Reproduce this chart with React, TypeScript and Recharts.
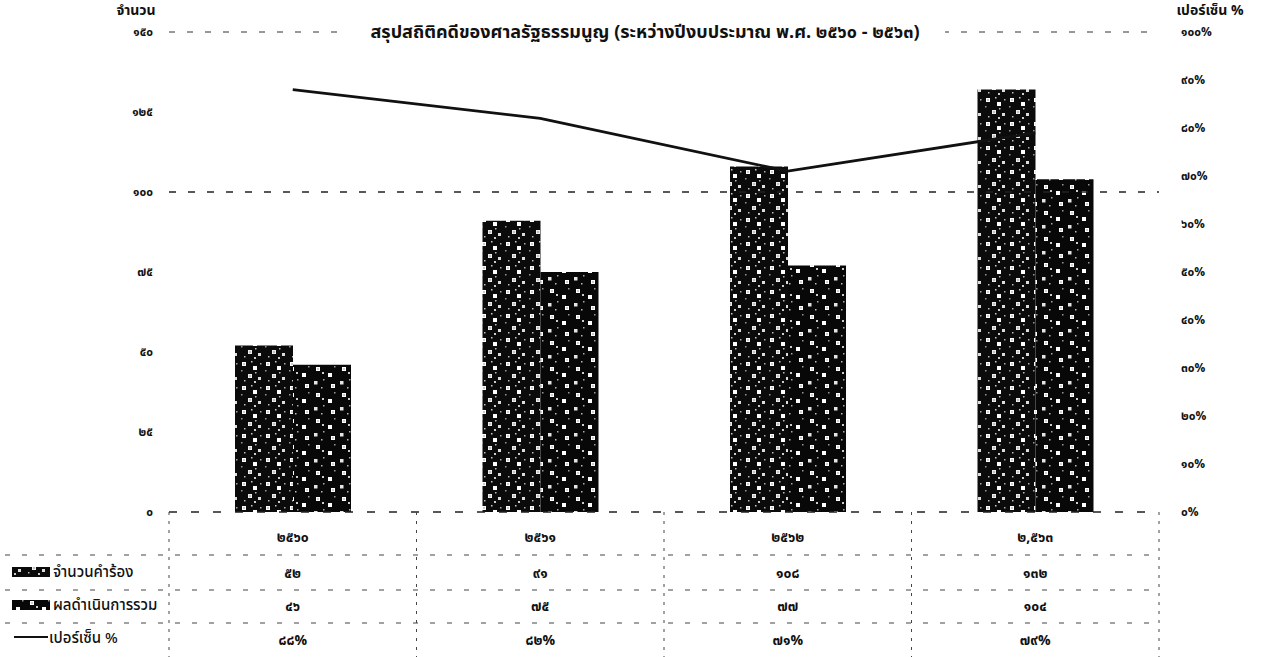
import React from 'react';
import { ComposedChart, Bar, Line, XAxis, YAxis, ReferenceLine } from 'recharts';

const categories = ['๒๕๖๐', '๒๕๖๑', '๒๕๖๒', '๒,๕๖๓'];
const petitions = [52, 91, 108, 132];
const results = [46, 75, 77, 104];
const percents = [88, 82, 71, 79];

const leftTicks = [0, 25, 50, 75, 100, 125, 150];
const leftTickLabels = ['๐', '๒๕', '๕๐', '๗๕', '๑๐๐', '๑๒๕', '๑๕๐'];
const rightTicks = [0, 10, 20, 30, 40, 50, 60, 70, 80, 90, 100];
const rightTickLabels = ['๐%', '๑๐%', '๒๐%', '๓๐%', '๔๐%', '๕๐%', '๖๐%', '๗๐%', '๘๐%', '๙๐%', '๑๐๐%'];

const seriesNames = ['จำนวนคำร้อง', 'ผลดำเนินการรวม', 'เปอร์เซ็น %'];
const title = 'สรุปสถิติคดีของศาลรัฐธรรมนูญ (ระหว่างปีงบประมาณ พ.ศ. ๒๕๖๐ - ๒๕๖๓)';
const leftAxisTitle = 'จำนวน';
const rightAxisTitle = 'เปอร์เซ็น %';

const thaiDigits = ['๐', '๑', '๒', '๓', '๔', '๕', '๖', '๗', '๘', '๙'];
const toThai = (s: string | number) => String(s).replace(/[0-9]/g, (d) => thaiDigits[Number(d)]);

const data = categories.map((c, i) => ({
  name: c,
  petitions: petitions[i],
  results: results[i],
  percent: percents[i],
}));

const FONT = '"Noto Sans Thai", "Tahoma", "Loma", "Garuda", "DejaVu Sans", sans-serif';
const W = 1267;
const H = 657;
const PLOT_LEFT = 169;
const PLOT_RIGHT = 1159;
const PLOT_BOTTOM = 512;
const BAND = (PLOT_RIGHT - PLOT_LEFT) / categories.length;

const Patterns = ({ prefix }: { prefix: string }) => (
  <defs>
    <pattern id={`${prefix}a`} width="24" height="24" patternUnits="userSpaceOnUse">
      <rect width="24" height="24" fill="#0b0b0b" />
      <rect x="2" y="2" width="4" height="4" fill="#fff" />
      <rect x="3.5" y="3.5" width="1" height="1" fill="#333" />
      <rect x="13" y="6" width="4" height="4" fill="#fff" />
      <rect x="8" y="14" width="4" height="4" fill="#eee" />
      <rect x="9.5" y="15.5" width="1" height="1" fill="#333" />
      <rect x="18" y="17" width="3" height="3" fill="#ddd" />
      <rect x="15" y="12" width="1.5" height="1.5" fill="#bbb" />
      <rect x="4" y="20" width="1.5" height="1.5" fill="#bbb" />
      <rect x="20" y="3" width="1.5" height="1.5" fill="#aaa" />
      <rect x="1" y="10" width="1.5" height="1.5" fill="#999" />
      <rect x="11" y="1" width="1.5" height="1.5" fill="#ccc" />
      <rect x="14" y="21" width="2" height="2" fill="#ccc" />
    </pattern>
    <pattern id={`${prefix}b`} width="26" height="26" patternUnits="userSpaceOnUse">
      <rect width="26" height="26" fill="#080808" />
      <rect x="4" y="3" width="4" height="4" fill="#fff" />
      <rect x="5.5" y="4.5" width="1" height="1" fill="#333" />
      <rect x="16" y="9" width="4" height="4" fill="#fff" />
      <rect x="2" y="17" width="3.5" height="3.5" fill="#e5e5e5" />
      <rect x="19" y="20" width="4" height="4" fill="#fff" />
      <rect x="20.5" y="21.5" width="1" height="1" fill="#333" />
      <rect x="11" y="15" width="1.5" height="1.5" fill="#aaa" />
      <rect x="9" y="23" width="1.5" height="1.5" fill="#bbb" />
      <rect x="22" y="2" width="1.5" height="1.5" fill="#999" />
      <rect x="10" y="8" width="2" height="2" fill="#ccc" />
    </pattern>
  </defs>
);

const TableTick = (props: any) => {
  const { x, payload } = props;
  const i = payload.index;
  const half = BAND / 2;
  const base = PLOT_BOTTOM;
  const txt = { fontFamily: FONT, fontSize: 14, fontWeight: 700, fill: '#111', textAnchor: 'middle' as const };
  return (
    <g>
      <line x1={x - half} x2={x - half} y1={base} y2={H} stroke="#444" strokeWidth={1} strokeDasharray="3 6" />
      {i === categories.length - 1 && (
        <line x1={x + half} x2={x + half} y1={base} y2={H} stroke="#444" strokeWidth={1} strokeDasharray="3 6" />
      )}
      <text x={x} y={base + 30} {...txt}>{categories[i]}</text>
      <text x={x} y={base + 66} {...txt}>{toThai(petitions[i])}</text>
      <text x={x} y={base + 99} {...txt}>{toThai(results[i])}</text>
      <text x={x} y={base + 133} {...txt}>{toThai(percents[i]) + '%'}</text>
    </g>
  );
};

export default function App() {
  return (
    <div style={{ position: 'absolute', left: 0, top: 0, width: W, height: H, background: '#fff', fontFamily: FONT }}>
      <ComposedChart
        width={W}
        height={H}
        data={data}
        margin={{ top: 32, right: 48, left: 109, bottom: 0 }}
        barGap={0}
      >
        <Patterns prefix="bp" />
        <XAxis
          dataKey="name"
          xAxisId="x"
          height={145}
          tickLine={false}
          tickSize={0}
          tickMargin={0}
          axisLine={{ stroke: '#222', strokeWidth: 1.5, strokeDasharray: '8 14' }}
          tick={<TableTick />}
          interval={0}
        />
        <YAxis
          yAxisId="left"
          domain={[0, 150]}
          ticks={leftTicks}
          tickFormatter={(v: number) => leftTickLabels[leftTicks.indexOf(v)]}
          axisLine={false}
          tickLine={false}
          tickSize={0}
          tickMargin={16}
          width={60}
          tick={{ fontFamily: FONT, fontSize: 12, fontWeight: 700, fill: '#111' }}
        />
        <YAxis
          yAxisId="right"
          orientation="right"
          domain={[0, 100]}
          ticks={rightTicks}
          tickFormatter={(v: number) => rightTickLabels[rightTicks.indexOf(v)]}
          axisLine={false}
          tickLine={false}
          tickSize={0}
          tickMargin={22}
          width={60}
          tick={{ fontFamily: FONT, fontSize: 12, fontWeight: 700, fill: '#111' }}
        />
        <ReferenceLine yAxisId="left" xAxisId="x" y={150} stroke="#333" strokeWidth={1} strokeDasharray="6 12" />
        <ReferenceLine yAxisId="left" xAxisId="x" y={100} stroke="#222" strokeWidth={1.3} strokeDasharray="7 12" />
        <Bar xAxisId="x" yAxisId="left" dataKey="petitions" fill="url(#bpa)" barSize={58} isAnimationActive={false} />
        <Bar xAxisId="x" yAxisId="left" dataKey="results" fill="url(#bpb)" barSize={58} isAnimationActive={false} />
        <Line
          xAxisId="x"
          yAxisId="right"
          dataKey="percent"
          type="linear"
          stroke="#111"
          strokeWidth={2.8}
          dot={false}
          isAnimationActive={false}
        />
      </ComposedChart>

      <svg width={W} height={H} style={{ position: 'absolute', left: 0, top: 0, pointerEvents: 'none' }}>
        <Patterns prefix="lp" />
        {[555, 590, 623].map((yy) => (
          <line key={yy} x1={5} x2={PLOT_RIGHT} y1={yy} y2={yy} stroke="#444" strokeWidth={1} strokeDasharray="5 12" />
        ))}
        <rect x={12} y={567} width={38} height={10} fill="url(#lpa)" />
        <rect x={12} y={600} width={38} height={10} fill="url(#lpb)" />
        <line x1={14} x2={48} y1={637} y2={637} stroke="#111" strokeWidth={2} />
        <text x={53} y={577} fontFamily={FONT} fontSize={15} fontWeight={500} fill="#111">{seriesNames[0]}</text>
        <text x={53} y={610} fontFamily={FONT} fontSize={15} fontWeight={500} fill="#111">{seriesNames[1]}</text>
        <text x={49} y={643} fontFamily={FONT} fontSize={15} fontWeight={500} fill="#111">{seriesNames[2]}</text>
        <text x={136} y={15} textAnchor="middle" fontFamily={FONT} fontSize={14} fontWeight={700} fill="#111">{leftAxisTitle}</text>
        <text x={1210} y={15} textAnchor="middle" fontFamily={FONT} fontSize={14} fontWeight={700} fill="#111">{rightAxisTitle}</text>
        <rect x={345} y={20} width={600} height={24} fill="#fff" />
        <text x={645} y={38} textAnchor="middle" fontFamily={FONT} fontSize={18} fontWeight={700} fill="#111">{title}</text>
      </svg>
    </div>
  );
}
